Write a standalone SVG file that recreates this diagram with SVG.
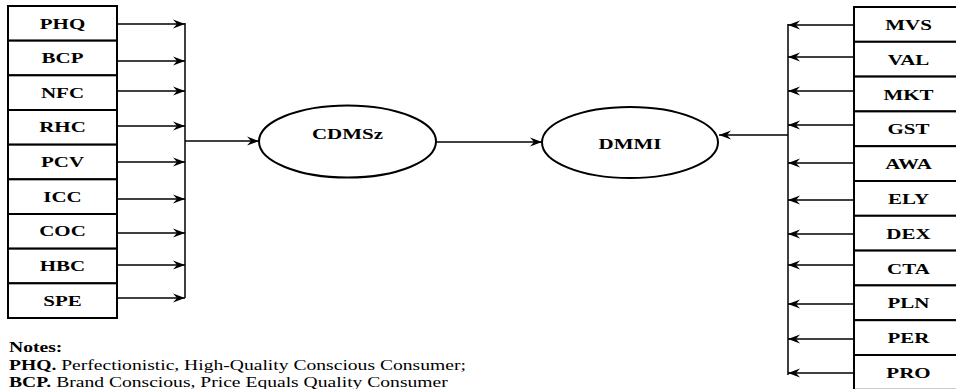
<svg xmlns="http://www.w3.org/2000/svg" width="956" height="389" viewBox="0 0 956 389">
<defs>
<marker id="ah" markerUnits="userSpaceOnUse" markerWidth="13" markerHeight="10" refX="12" refY="5" orient="auto">
<path d="M0,0.5 L12,5 L0,9.5 L4,5 Z" fill="#000"/>
</marker>
</defs>
<style>
.box{fill:#fff;stroke:#000;stroke-width:2}
.ell{fill:#fff;stroke:#000;stroke-width:2}
.lbl{font-weight:bold;font-size:15px;text-anchor:middle;fill:#000}
.ln{fill:none;stroke:#000;stroke-width:1.5}
.ar{fill:none;stroke:#000;stroke-width:1.5;marker-end:url(#ah)}
.note{font-size:14px;fill:#000}
.b{font-weight:bold}
</style>
<rect width="956" height="389" fill="#fff"/>
<g font-family="Liberation Serif, DejaVu Serif, serif">
<g id="PHQ"><rect class="box" x="8" y="6" width="109" height="34.67"/><text class="lbl" transform="translate(62.5,28.5) scale(1.4,1)">PHQ</text></g>
<g id="BCP"><rect class="box" x="8" y="40.67" width="109" height="34.67"/><text class="lbl" transform="translate(62.5,63) scale(1.4,1)">BCP</text></g>
<g id="NFC"><rect class="box" x="8" y="75.33" width="109" height="34.67"/><text class="lbl" transform="translate(62.5,97.7) scale(1.4,1)">NFC</text></g>
<g id="RHC"><rect class="box" x="8" y="110" width="109" height="34.67"/><text class="lbl" transform="translate(62.5,132.3) scale(1.4,1)">RHC</text></g>
<g id="PCV"><rect class="box" x="8" y="144.67" width="109" height="34.67"/><text class="lbl" transform="translate(62.5,167) scale(1.4,1)">PCV</text></g>
<g id="ICC"><rect class="box" x="8" y="179.33" width="109" height="34.67"/><text class="lbl" transform="translate(62.5,201.7) scale(1.4,1)">ICC</text></g>
<g id="COC"><rect class="box" x="8" y="214" width="109" height="34.67"/><text class="lbl" transform="translate(62.5,236.3) scale(1.4,1)">COC</text></g>
<g id="HBC"><rect class="box" x="8" y="248.67" width="109" height="34.67"/><text class="lbl" transform="translate(62.5,271) scale(1.4,1)">HBC</text></g>
<g id="SPE"><rect class="box" x="8" y="283.33" width="109" height="34.67"/><text class="lbl" transform="translate(62.5,305.7) scale(1.4,1)">SPE</text></g>

<g id="MVS"><rect class="box" x="854" y="7" width="109" height="34.8"/><text class="lbl" transform="translate(908.5,29.9) scale(1.4,1)">MVS</text></g>
<g id="VAL"><rect class="box" x="854" y="41.8" width="109" height="34.8"/><text class="lbl" transform="translate(908.5,64.7) scale(1.4,1)">VAL</text></g>
<g id="MKT"><rect class="box" x="854" y="76.6" width="109" height="34.8"/><text class="lbl" transform="translate(908.5,99.5) scale(1.4,1)">MKT</text></g>
<g id="GST"><rect class="box" x="854" y="111.4" width="109" height="34.8"/><text class="lbl" transform="translate(908.5,134.3) scale(1.4,1)">GST</text></g>
<g id="AWA"><rect class="box" x="854" y="146.2" width="109" height="34.8"/><text class="lbl" transform="translate(908.5,169.1) scale(1.4,1)">AWA</text></g>
<g id="ELY"><rect class="box" x="854" y="181" width="109" height="34.8"/><text class="lbl" transform="translate(908.5,203.9) scale(1.4,1)">ELY</text></g>
<g id="DEX"><rect class="box" x="854" y="215.8" width="109" height="34.8"/><text class="lbl" transform="translate(908.5,238.7) scale(1.4,1)">DEX</text></g>
<g id="CTA"><rect class="box" x="854" y="250.6" width="109" height="34.8"/><text class="lbl" transform="translate(908.5,273.5) scale(1.4,1)">CTA</text></g>
<g id="PLN"><rect class="box" x="854" y="285.4" width="109" height="34.8"/><text class="lbl" transform="translate(908.5,308.3) scale(1.4,1)">PLN</text></g>
<g id="PER"><rect class="box" x="854" y="320.2" width="109" height="34.8"/><text class="lbl" transform="translate(908.5,343.1) scale(1.4,1)">PER</text></g>
<g id="PRO"><rect class="box" x="854" y="355" width="109" height="34.8"/><text class="lbl" transform="translate(908.5,377.9) scale(1.4,1)">PRO</text></g>

<g id="CDMSz"><ellipse class="ell" cx="347.5" cy="141.5" rx="88.5" ry="36"/><text class="lbl" transform="translate(347.5,139) scale(1.4,1)">CDMSz</text></g>
<g id="DMMI"><ellipse class="ell" cx="630" cy="142.5" rx="88" ry="35.5"/><text class="lbl" transform="translate(630,149) scale(1.4,1)">DMMI</text></g>

<g id="notes">
<text class="note b" transform="translate(9,352) scale(1.4,1)">Notes:</text>
<text class="note" transform="translate(9,369.5) scale(1.4,1)"><tspan class="b">PHQ.</tspan> Perfectionistic, High-Quality Conscious Consumer;</text>
<text class="note" transform="translate(9,387) scale(1.4,1)"><tspan class="b">BCP.</tspan> Brand Conscious, Price Equals Quality Consumer</text>
</g>
</g>

<g id="connectors">
<line class="ln" x1="185" y1="23" x2="185" y2="298"/>
<line class="ar" x1="117" y1="24" x2="185" y2="24"/>
<line class="ar" x1="117" y1="61" x2="185" y2="61"/>
<line class="ar" x1="117" y1="91" x2="185" y2="91"/>
<line class="ar" x1="117" y1="126" x2="185" y2="126"/>
<line class="ar" x1="117" y1="162" x2="185" y2="162"/>
<line class="ar" x1="117" y1="199" x2="185" y2="199"/>
<line class="ar" x1="117" y1="233" x2="185" y2="233"/>
<line class="ar" x1="117" y1="265" x2="185" y2="265"/>
<line class="ar" x1="117" y1="298" x2="185" y2="298"/>
<line class="ar" x1="185" y1="141" x2="259" y2="141"/>
<line class="ar" x1="436" y1="142" x2="542" y2="142"/>
<line class="ln" x1="788" y1="24" x2="788" y2="375"/>
<line class="ar" x1="854" y1="25" x2="788" y2="25"/>
<line class="ar" x1="854" y1="57" x2="788" y2="57"/>
<line class="ar" x1="854" y1="91" x2="788" y2="91"/>
<line class="ar" x1="854" y1="125" x2="788" y2="125"/>
<line class="ar" x1="854" y1="163" x2="788" y2="163"/>
<line class="ar" x1="854" y1="200" x2="788" y2="200"/>
<line class="ar" x1="854" y1="234" x2="788" y2="234"/>
<line class="ar" x1="854" y1="265" x2="788" y2="265"/>
<line class="ar" x1="854" y1="304" x2="788" y2="304"/>
<line class="ar" x1="854" y1="339" x2="788" y2="339"/>
<line class="ar" x1="854" y1="373" x2="788" y2="373"/>
<line class="ar" x1="788" y1="135" x2="719" y2="135"/>
</g>
</svg>
